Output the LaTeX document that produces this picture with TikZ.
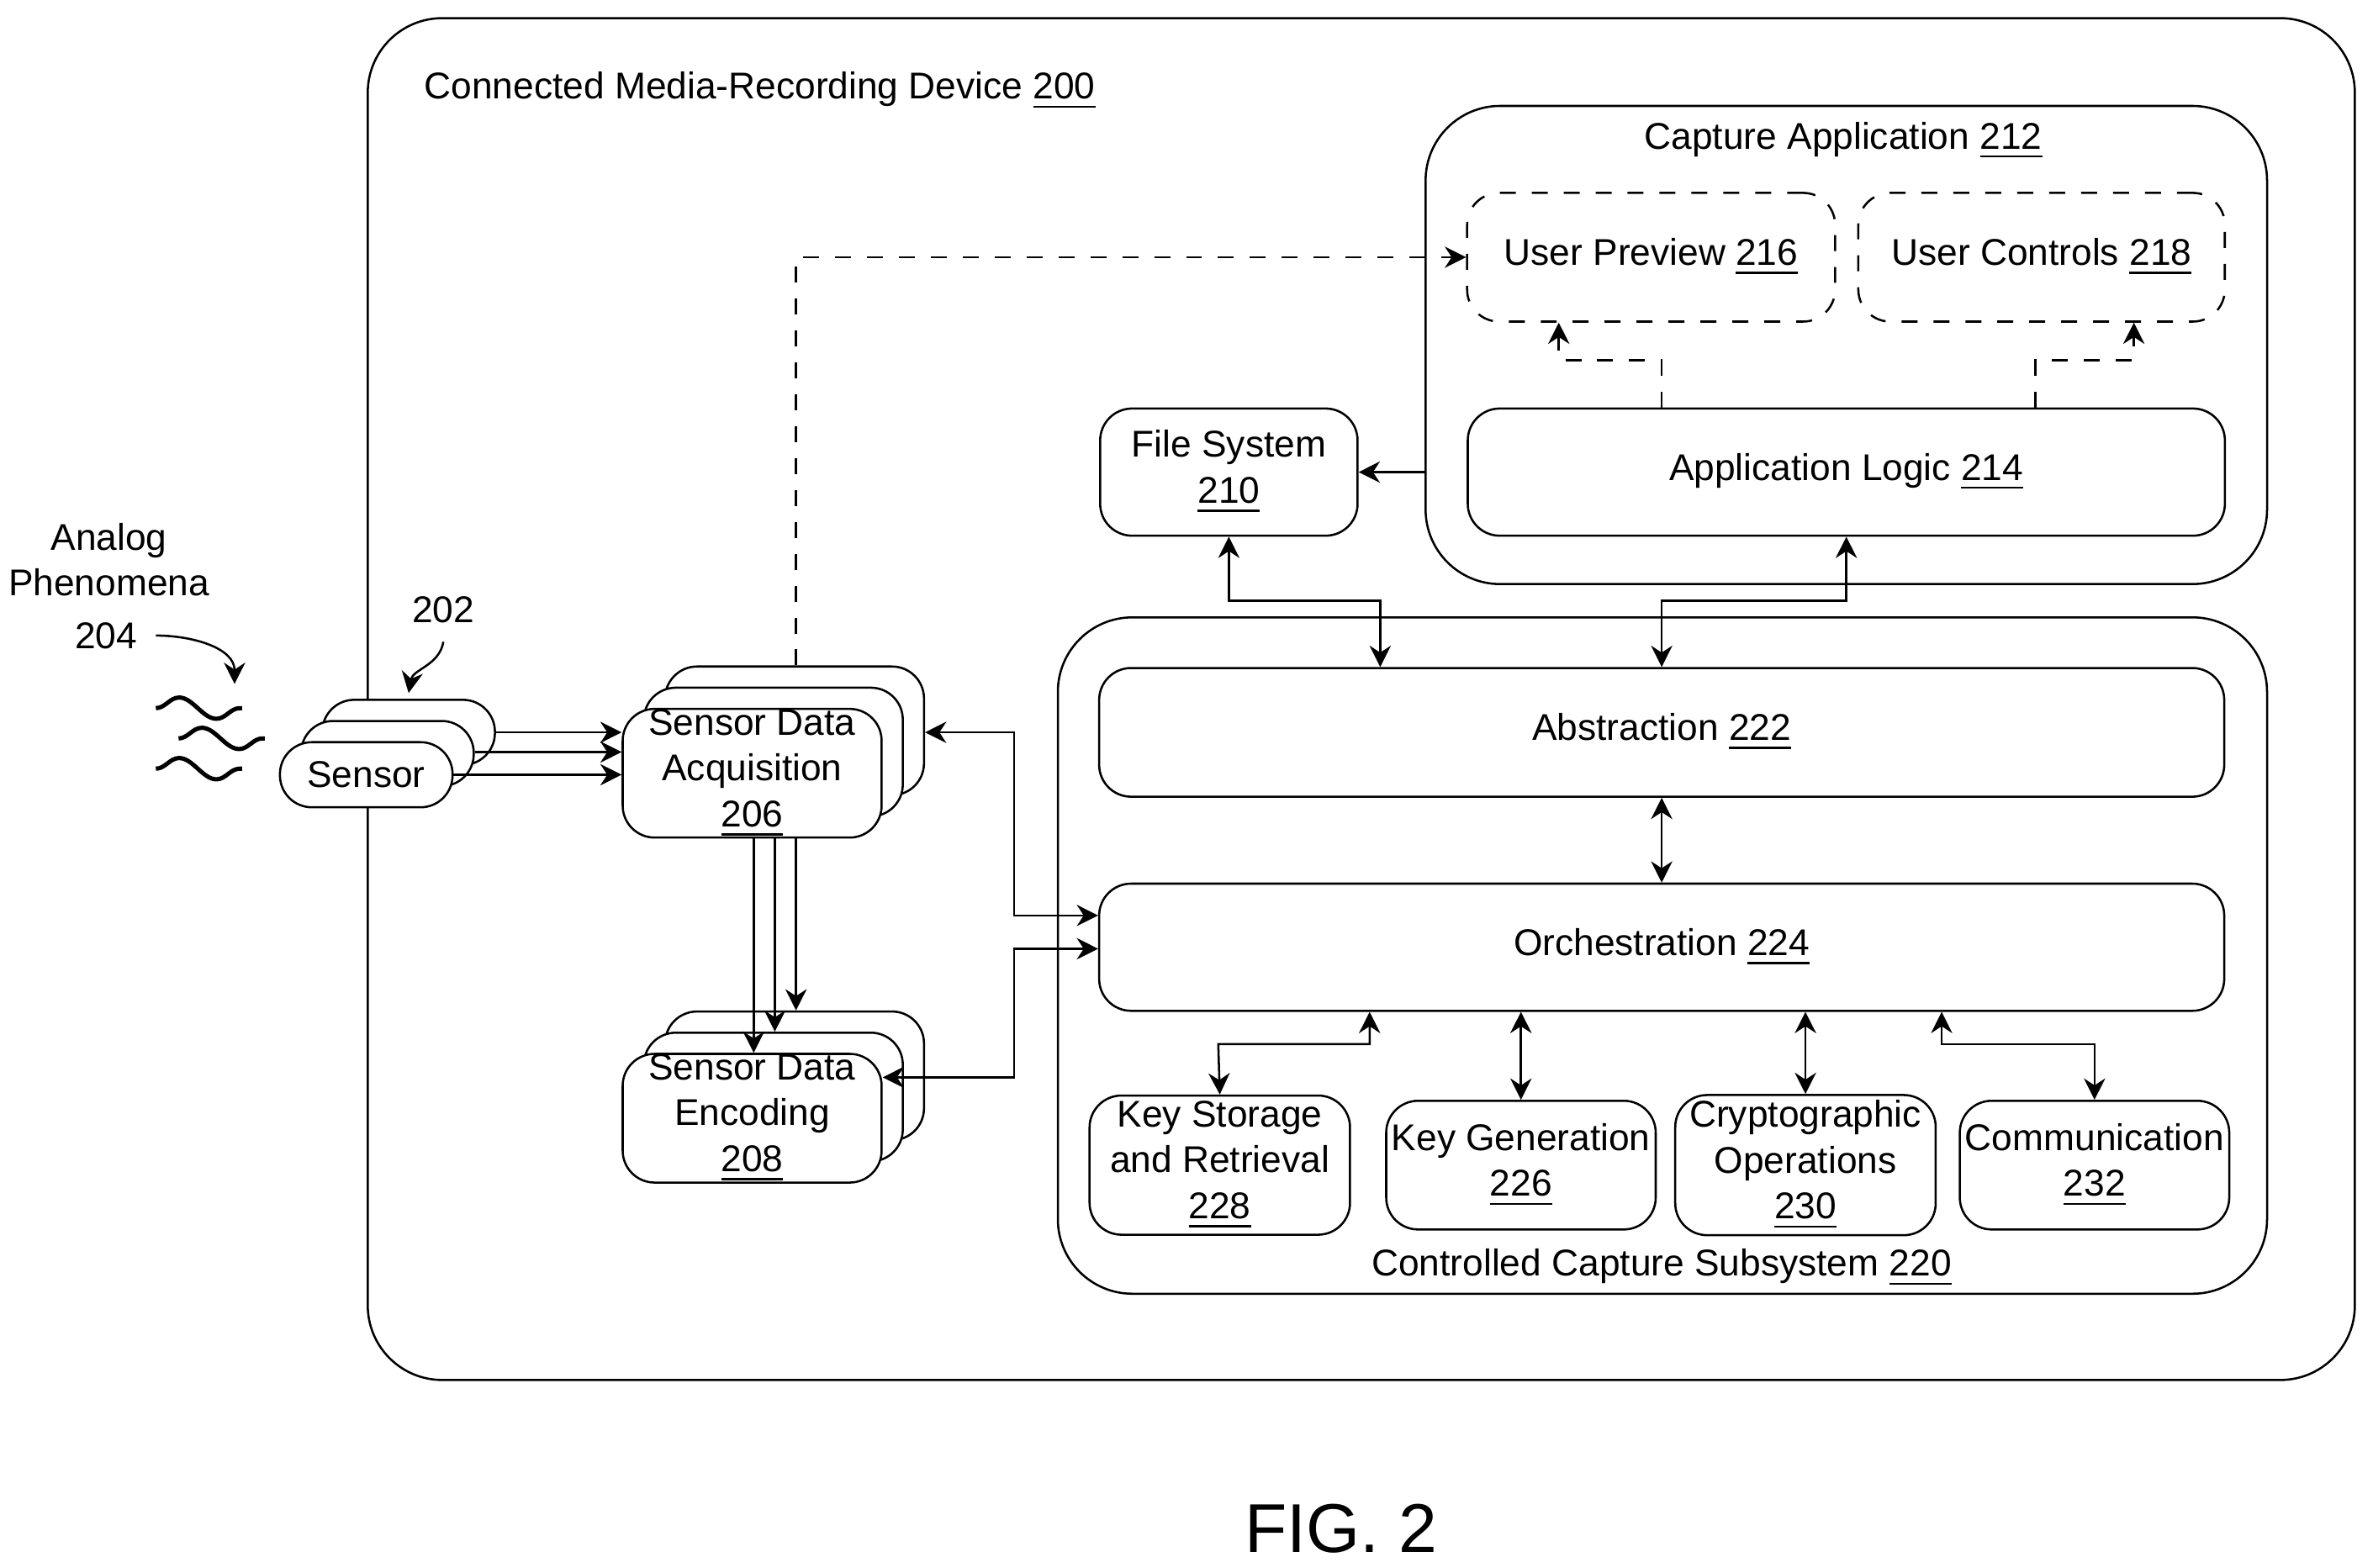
\documentclass[tikz,border=0pt]{standalone}
\usepackage{fontspec}
\setmainfont{Liberation Sans}
\usetikzlibrary{arrows.meta,positioning,decorations.pathmorphing}
\newcommand{\ul}[1]{\underline{#1}}
\tikzset{
  box/.style={draw, rounded corners=6pt, fill=white, align=center, inner sep=1pt, font=\fontsize{7}{8.6}\selectfont},
  dbox/.style={box, dashed},
  frame/.style={draw, rounded corners=14pt},
  arr/.style={-{Stealth[length=4pt,width=4pt]}},
  darr/.style={{Stealth[length=4pt,width=4pt]}-{Stealth[length=4pt,width=4pt]}},
  lbl/.style={font=\fontsize{7}{8.6}\selectfont, align=center}
}
\begin{document}
\begin{tikzpicture}[x=0.01cm, y=-0.01cm]
  \useasboundingbox (0,0) rectangle (1568,1036);
  % frames
  \draw[frame] (243,12) rectangle (1556,912);
  \node[lbl, anchor=west] (devlbl) at (268,60) {Connected Media-Recording Device \ul{200}};
  \draw[frame] (942,70) rectangle (1498,386);
  \node[lbl] (applbl) at (1218,93) {Capture Application \ul{212}};
  \draw[frame] (699,408) rectangle (1498,855);
  \node[lbl] (ccslbl) at (1098,838) {Controlled Capture Subsystem \ul{220}};

  % capture application
  \node[dbox, minimum width=2.43cm, minimum height=0.85cm] (prev) at (1091,170) {User Preview \ul{216}};
  \node[dbox, minimum width=2.42cm, minimum height=0.85cm] (ctrl) at (1349,170) {User Controls \ul{218}};
  \node[box, minimum width=5cm, minimum height=0.84cm] (logic) at (1220,312) {Application Logic \ul{214}};
  \node[box, minimum width=1.7cm, minimum height=0.84cm] (fs) at (812,312) {File System\\\ul{210}};

  % subsystem
  \node[box, minimum width=7.43cm, minimum height=0.85cm] (abs) at (1098,484) {Abstraction \ul{222}};
  \node[box, minimum width=7.43cm, minimum height=0.84cm] (orch) at (1098,626) {Orchestration \ul{224}};
  \node[box, minimum width=1.72cm, minimum height=0.85cm] (ksr) at (806,770) {Key Storage\\and Retrieval\\\ul{228}};
  \node[box, minimum width=1.71cm, minimum height=0.85cm] (kgen) at (1005,770) {Key Generation\\\ul{226}};
  \node[box, minimum width=1.72cm, minimum height=0.85cm] (crypt) at (1193,770) {Cryptographic\\Operations\\\ul{230}};
  \node[box, minimum width=1.72cm, minimum height=0.85cm] (comm) at (1384,770) {Communication\\\ul{232}};

  % sensor stacks
  \foreach \dx/\n in {28/3,14/2,0/1} {
    \node[box, minimum width=1.14cm, minimum height=0.43cm] (sen\n) at (242+\dx,512-\dx) {};
    \node[box, minimum width=1.71cm, minimum height=0.85cm] (acq\n) at (497+\dx,511-\dx) {};
    \node[box, minimum width=1.71cm, minimum height=0.85cm] (enc\n) at (497+\dx,739-\dx) {};
  }
  \node[lbl] at (sen1) {Sensor};
  \node[lbl] at (acq1) {Sensor Data\\Acquisition\\\ul{206}};
  \node[lbl] at (enc1) {Sensor Data\\Encoding\\\ul{208}};

  % phenomena
  \node[lbl] (analog) at (72,370) {Analog\\Phenomena};
  \node[lbl] (p204) at (70,420) {204};
  \node[lbl] (p202) at (293,403) {202};
  \coordinate (wave) at (155,452);
  \coordinate (stack) at (270,458);
  \draw[arr] (p204.east) to[out=0,in=90] (wave);
  \draw[arr] (p202.south) to[out=-100,in=80] (stack);
  \foreach \y/\x in {468/115,488/130,508/115} {
    \draw[thick, decorate, decoration={snake, amplitude=2pt, segment length=14pt}] (\x-12,\y) -- (\x+45,\y);
  }

  % sensor to acquisition
  \draw[arr] (sen3.east |- 0,484) -- (acq1.west |- 0,484);
  \draw[arr] (sen2.east |- 0,497) -- (acq1.west |- 0,497);
  \draw[arr] (sen1.east |- 0,512) -- (acq1.west |- 0,512);
  % acquisition to encoding
  \draw[arr] (498,554) -- (enc1.north -| 498,0);
  \draw[arr] (512,554) -- (enc2.north -| 512,0);
  \draw[arr] (526,554) -- (enc3.north -| 526,0);
  % preview path
  \draw[arr, dashed] (acq3.north -| 526,0) |- (prev.west);
  \draw[arr, dashed] (logic.north -| 1098,0) |- (1030,238) -- (prev.south -| 1030,0);
  \draw[arr, dashed] (logic.north -| 1345,0) |- (1410,238) -- (ctrl.south -| 1410,0);
  \draw[arr] (942,312) -- (fs.east);
  % subsystem links
  \draw[darr] (fs.south) |- (912,397) -- (abs.north -| 912,0);
  \draw[darr] (logic.south) |- (1098,397) -- (abs.north);
  \draw[darr] (abs.south) -- (orch.north);
  \draw[darr] (acq3.east |- 0,484) -| (670,605) -- (orch.west |- 0,605);
  \draw[darr] (enc1.east |- 0,712) -| (670,627) -- (orch.west |- 0,627);
  \draw[darr] (orch.south -| 905,0) |- (805,690) -- (ksr.north);
  \draw[darr] (orch.south -| kgen.north) -- (kgen.north);
  \draw[darr] (orch.south -| crypt.north) -- (crypt.north);
  \draw[darr] (orch.south -| 1283,0) |- (1384,690) -- (comm.north);

  \node[font=\fontsize{13}{15}\selectfont] (fig) at (886,1010) {FIG. 2};
\end{tikzpicture}
\end{document}
